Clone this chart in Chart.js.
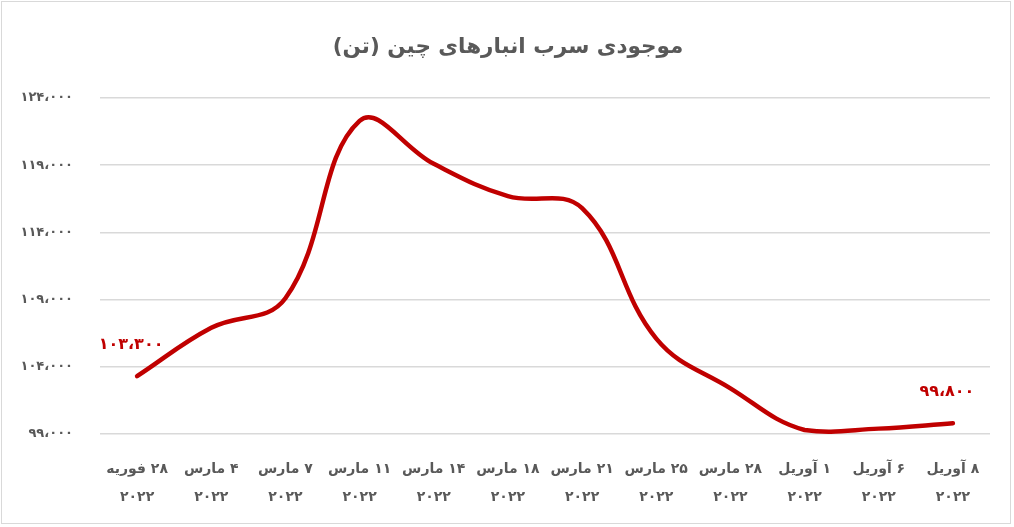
<!DOCTYPE html>
<html><head><meta charset="utf-8">
<script src="https://cdn.jsdelivr.net/npm/chart.js@4.4.1/dist/chart.umd.min.js"></script>
<style>html,body{margin:0;padding:0;background:#fff}#wrap{width:1014px;height:527px;position:relative}</style>
</head><body>
<div id="wrap"><canvas id="c" dir="rtl" width="1014" height="527"></canvas></div>
<script>
const chartTitle = 'موجودی سرب انبارهای چین (تن)';
const dayLabels = ['۲۸ فوریه','۴ مارس','۷ مارس','۱۱ مارس','۱۴ مارس','۱۸ مارس','۲۱ مارس','۲۵ مارس','۲۸ مارس','۱ آوریل','۶ آوریل','۸ آوریل'];
const yearLabel = '۲۰۲۲';
const inventory = [103300,106900,109100,122300,119100,116700,115800,106100,102400,99300,99400,99800];
const labeledIdx = [0, 11];
const yMin = 99000, yMax = 124000, yStep = 5000;

const FONT = "'DejaVu Sans', sans-serif";
const GRAY = '#595959';
const RED = '#c00000';

function toFa(n){
  const s = Math.round(n).toString().replace(/\B(?=(\d{3})+(?!\d))/g, '،');
  return s.replace(/\d/g, d => '۰۱۲۳۴۵۶۷۸۹'[d]);
}

const categories = dayLabels.map(d => [d, yearLabel]);

const decor = {
  id: 'decor',
  afterDraw(chart){
    const ctx = chart.ctx;
    ctx.save();
    ctx.strokeStyle = '#d9d9d9';
    ctx.lineWidth = 1;
    ctx.strokeRect(1.5, 1.5, 1009, 522);
    ctx.fillStyle = GRAY;
    ctx.font = "bold 21.5px " + FONT;
    ctx.textAlign = 'center';
    ctx.textBaseline = 'middle';
    ctx.fillText(chartTitle, 508, 47);
    const meta = chart.getDatasetMeta(0);
    ctx.fillStyle = RED;
    ctx.font = "bold 16px " + FONT;
    labeledIdx.forEach(i => {
      const p = meta.data[i];
      ctx.fillText(toFa(inventory[i]), p.x - 6, p.y - 31);
    });
    ctx.restore();
  }
};

new Chart(document.getElementById('c'), {
  type: 'line',
  data: {
    labels: categories,
    datasets: [{
      data: inventory,
      borderColor: RED,
      borderWidth: 4.5,
      tension: 0.4,
      pointRadius: 0,
      fill: false,
      clip: false,
      borderCapStyle: 'round'
    }]
  },
  options: {
    responsive: false,
    animation: false,
    layout: { padding: { top: 98, right: 24, bottom: 0, left: 0 } },
    plugins: { legend: { display: false }, tooltip: { enabled: false }, title: { display: false } },
    scales: {
      x: {
        type: 'category',
        offset: true,
        grid: { display: false },
        border: { display: false },
        afterFit(s){ s.height = 93; },
        ticks: {
          autoSkip: false, maxRotation: 0, minRotation: 0,
          color: GRAY, padding: 13,
          font: { family: FONT, weight: 'bold', size: 14, lineHeight: 2 }
        }
      },
      y: {
        min: yMin, max: yMax,
        afterFit(s){ s.width = 100; },
        grid: { color: '#d9d9d9', lineWidth: 1.5, drawTicks: false },
        border: { display: false },
        ticks: {
          stepSize: yStep, color: GRAY, padding: 27,
          font: { family: FONT, weight: 'bold', size: 13 },
          callback: v => toFa(v)
        }
      }
    }
  },
  plugins: [decor]
});
</script>
</body></html>
